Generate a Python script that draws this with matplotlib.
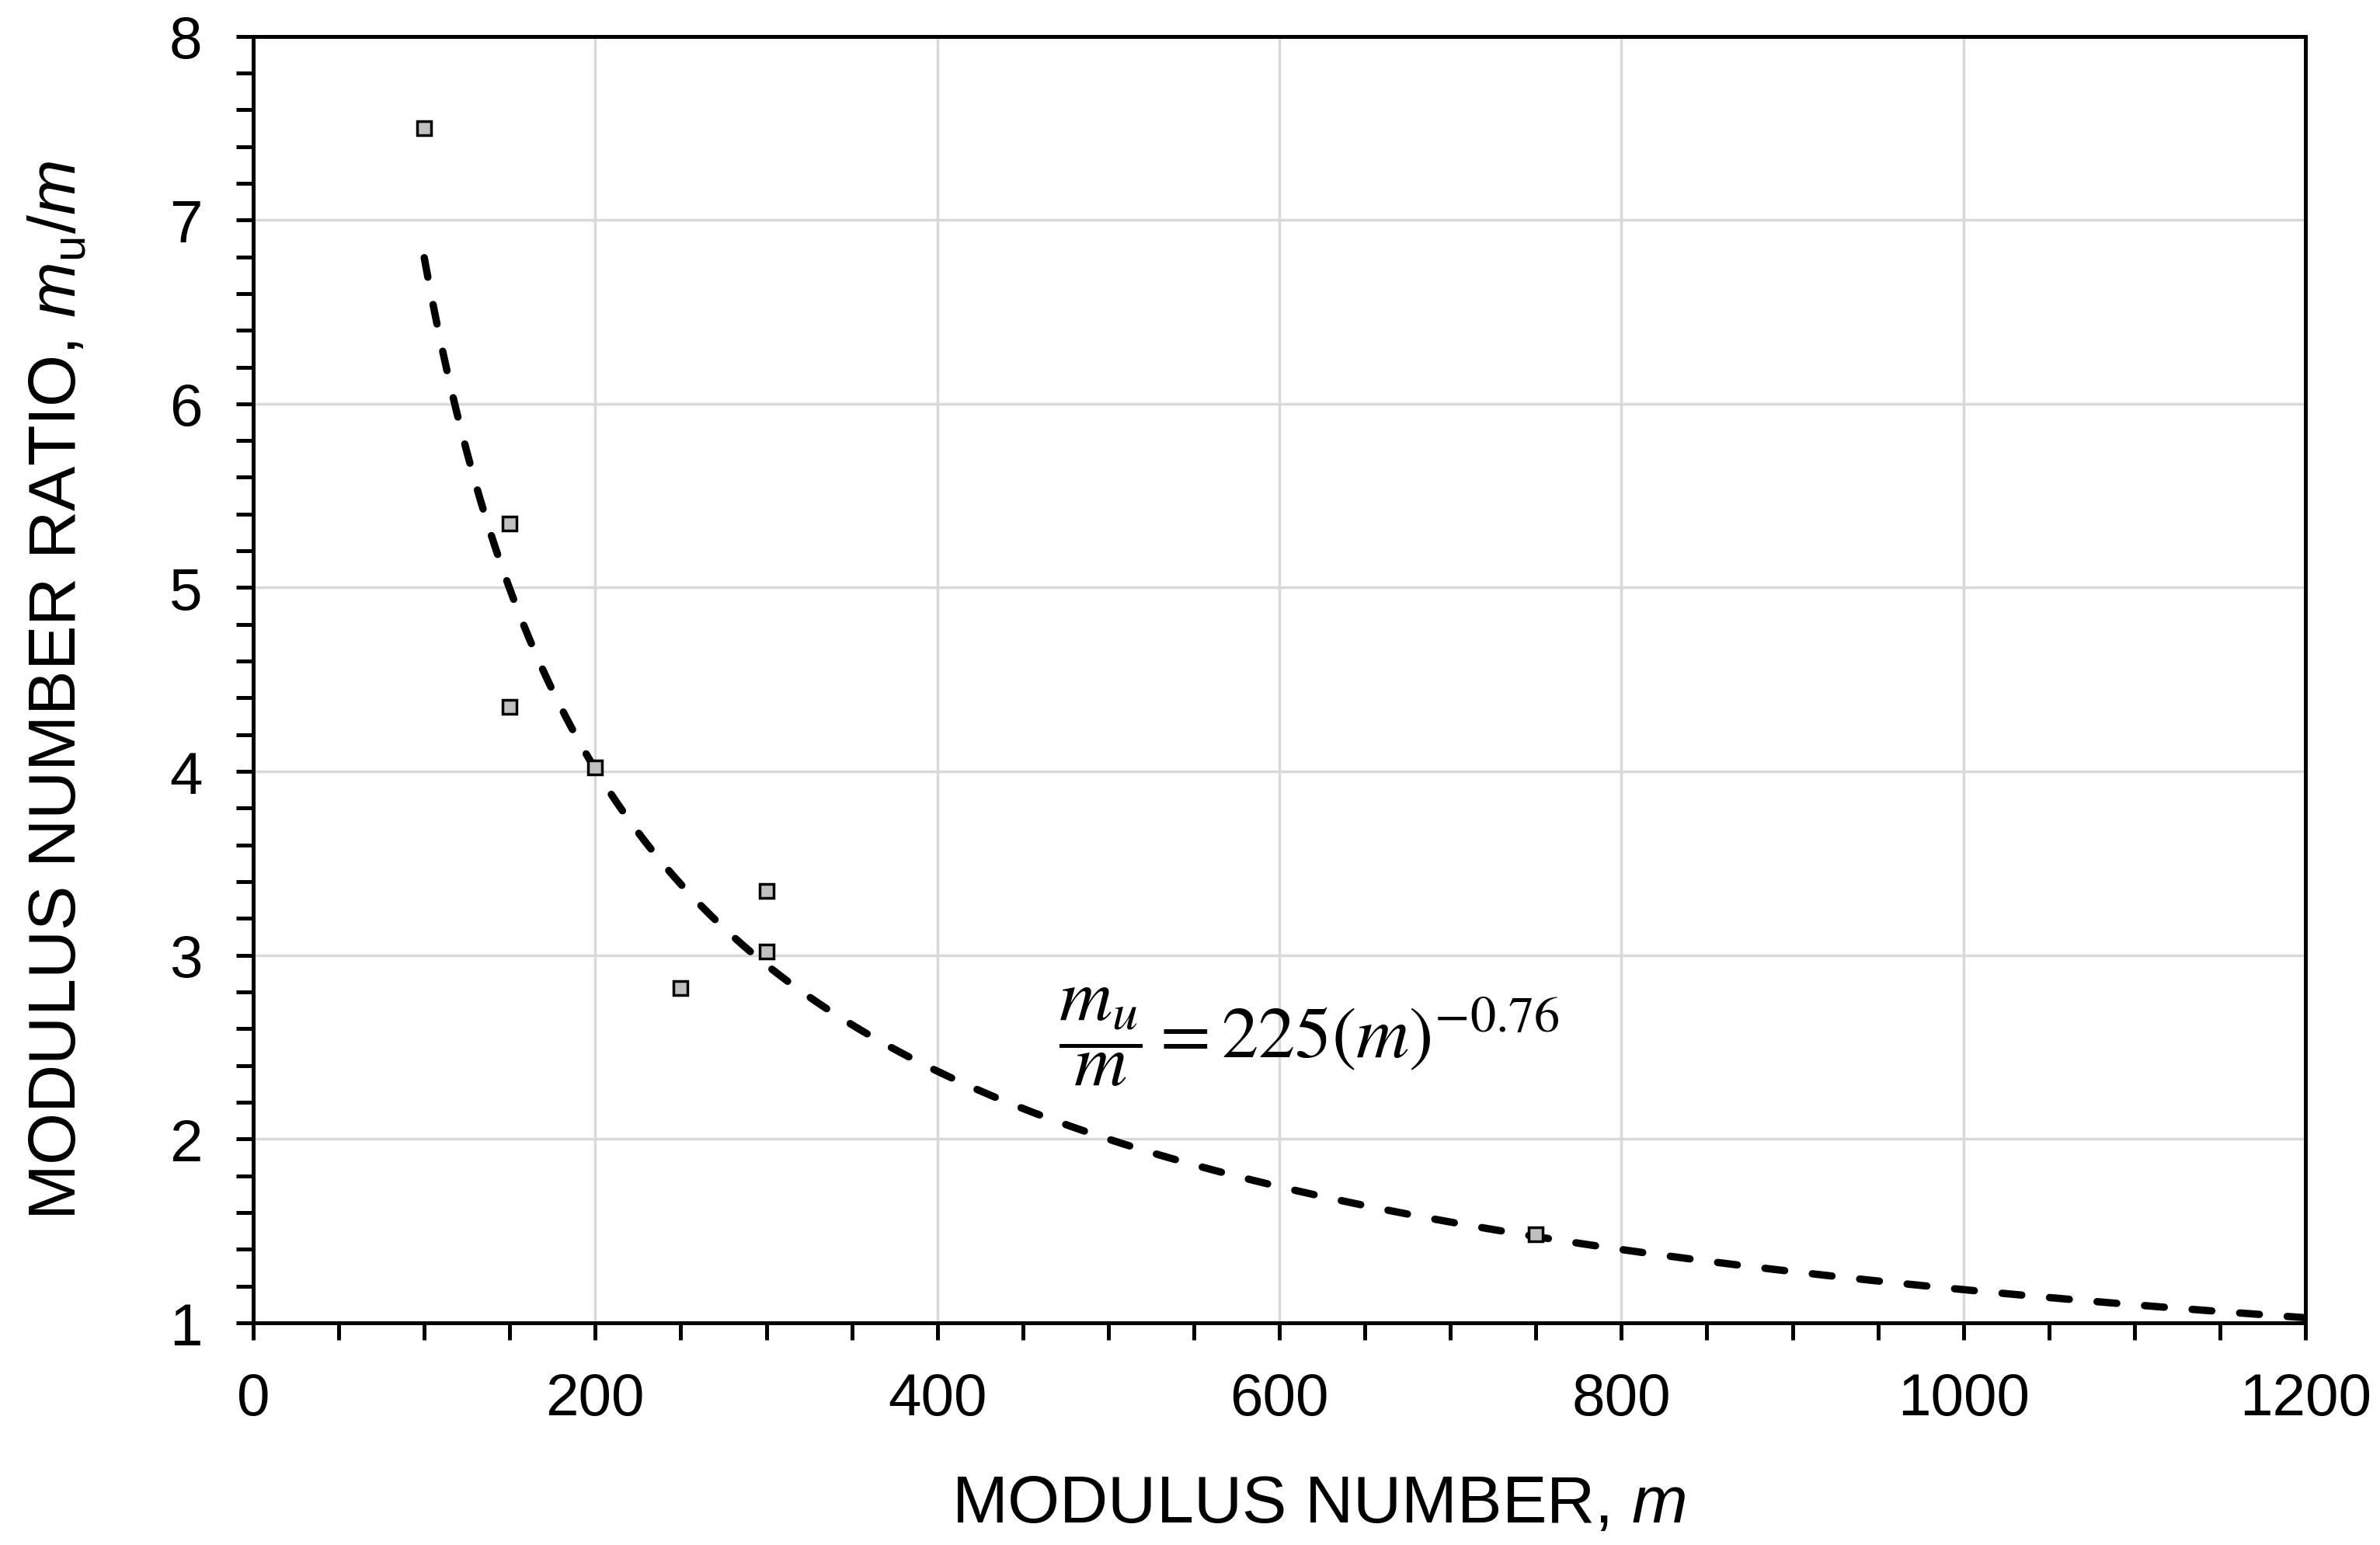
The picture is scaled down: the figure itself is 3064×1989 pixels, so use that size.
import numpy as np
import matplotlib
matplotlib.use("Agg")
import matplotlib.pyplot as plt
from matplotlib.ticker import MultipleLocator

plt.rcParams['font.family'] = ['Liberation Sans', 'DejaVu Sans']
plt.rcParams['mathtext.fontset'] = 'custom'
plt.rcParams['mathtext.rm'] = 'Liberation Sans'
plt.rcParams['mathtext.it'] = 'Liberation Sans:italic'
plt.rcParams['mathtext.bf'] = 'Liberation Sans:bold'

# ---- data ----
modulus_m = [100, 150, 150, 200, 250, 300, 300, 750]
ratio_mu_m = [7.50, 5.35, 4.35, 4.02, 2.82, 3.35, 3.02, 1.48]

# fitted trend line shown on the chart: mu/m = 225 (m)^-0.76
fit_coef = 225.0
fit_exp = -0.76
fit_m_start = 100
fit_m_end = 1200

x_ticks = [0, 200, 400, 600, 800, 1000, 1200]
y_ticks = [1, 2, 3, 4, 5, 6, 7, 8]

# ---- figure ----
fig = plt.figure(figsize=(30.64, 19.90), dpi=100)
ax = fig.add_axes([0.1064, 0.1437, 0.9687 - 0.1064, 0.9761 - 0.1437])

curve_m = np.linspace(fit_m_start, fit_m_end, 400)
curve_r = fit_coef * curve_m ** fit_exp
ax.plot(curve_m, curve_r, color='black', linewidth=6.8,
        linestyle=(0, (2.7, 3.8)), dash_capstyle='round', zorder=3)

ax.plot(modulus_m, ratio_mu_m, linestyle='none', marker='s', markersize=12.5,
        markerfacecolor='#C0C0C0', markeredgecolor='black',
        markeredgewidth=2.5, zorder=4)

ax.set_xlim(0, 1200)
ax.set_ylim(1, 8)
ax.set_xticks(x_ticks)
ax.set_yticks(y_ticks)
ax.xaxis.set_minor_locator(MultipleLocator(50))
ax.yaxis.set_minor_locator(MultipleLocator(0.2))

ax.grid(True, which='major', color='#D9D9D9', linewidth=2.5, zorder=0)
ax.set_axisbelow(True)

for s in ax.spines.values():
    s.set_linewidth(3.6)
    s.set_color('black')

ax.tick_params(axis='both', which='both', direction='out', length=16,
               width=3.6, color='black')
ax.tick_params(axis='x', which='major', labelsize=55, pad=29)
ax.tick_params(axis='y', which='major', labelsize=55, pad=31)

ax.set_xlabel(r'MODULUS NUMBER, $m$', fontsize=62)
ax.set_ylabel(r'MODULUS NUMBER RATIO, $m_\mathrm{u}/m$', fontsize=62)
ax.xaxis.set_label_coords(0.519, -0.117)
ax.yaxis.set_label_coords(-0.080, 0.492)

ax.text(471, 2.56, r'$\dfrac{m_u}{m} = 225(m)^{-0.76}$', fontsize=68,
        math_fontfamily='stix', ha='left', va='center', zorder=5)

fig.savefig('out.png', dpi=100, facecolor='white')
